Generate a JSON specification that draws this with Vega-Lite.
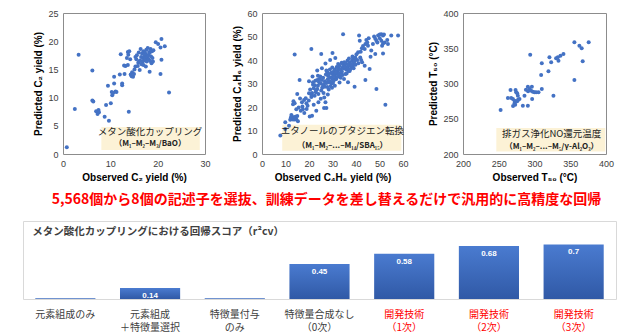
{
  "$schema": "https://vega.github.io/schema/vega-lite/v6.json",
  "padding": {"left": 22, "top": 8, "right": 0, "bottom": 0},
  "autosize": {"type": "pad"},
  "background": "white",
  "spacing": 9,
  "datasets": {
    "c2": [
      {"x":0.8,"y":1.2},{"x":2.5,"y":8.0},{"x":3.3,"y":17.6},{"x":6.2,"y":14.8},{"x":6.2,"y":9.5},{"x":6.4,"y":9.3},{"x":7.0,"y":7.6},{"x":7.3,"y":7.1},{"x":7.5,"y":7.8},{"x":7.6,"y":7.4},
      {"x":8.8,"y":6.6},{"x":9.1,"y":8.7},{"x":9.5,"y":12.1},{"x":9.7,"y":5.9},{"x":10.1,"y":9.0},{"x":10.3,"y":11.0},{"x":10.4,"y":10.4},{"x":10.6,"y":10.8},{"x":10.8,"y":12.5},{"x":10.8,"y":13.7},
      {"x":11.1,"y":11.1},{"x":11.3,"y":11.0},{"x":12.0,"y":14.1},{"x":12.2,"y":17.7},{"x":12.5,"y":12.5},{"x":12.5,"y":12.2},{"x":12.9,"y":15.7},{"x":13.0,"y":14.2},{"x":13.2,"y":15.6},{"x":13.5,"y":17.0},
      {"x":13.7,"y":18.1},{"x":13.8,"y":17.6},{"x":13.9,"y":7.5},{"x":13.7,"y":15.8},{"x":14.0,"y":18.2},{"x":14.3,"y":14.1},{"x":14.5,"y":13.8},{"x":14.6,"y":14.5},{"x":14.8,"y":13.7},{"x":15.0,"y":14.2},
      {"x":15.1,"y":15.0},{"x":15.3,"y":15.5},{"x":15.3,"y":17.2},{"x":15.6,"y":17.5},{"x":15.8,"y":15.6},{"x":15.9,"y":16.2},{"x":16.0,"y":18.0},{"x":16.1,"y":16.4},{"x":16.3,"y":16.6},{"x":16.4,"y":18.6},
      {"x":16.5,"y":17.2},{"x":16.7,"y":17.8},{"x":16.8,"y":16.3},{"x":16.9,"y":17.0},{"x":17.0,"y":18.2},{"x":17.1,"y":16.6},{"x":17.2,"y":17.4},{"x":17.3,"y":18.0},{"x":17.4,"y":16.9},{"x":17.5,"y":17.7},
      {"x":17.6,"y":18.5},{"x":17.7,"y":16.4},{"x":17.8,"y":17.2},{"x":17.9,"y":18.8},{"x":18.0,"y":17.5},{"x":18.1,"y":16.8},{"x":18.2,"y":18.1},{"x":18.3,"y":14.6},{"x":18.3,"y":17.9},{"x":18.4,"y":16.5},
      {"x":18.5,"y":18.6},{"x":18.6,"y":17.3},{"x":18.7,"y":16.1},{"x":18.8,"y":18.2},{"x":18.9,"y":17.0},{"x":19.0,"y":16.4},{"x":19.1,"y":18.4},{"x":17.0,"y":15.8},{"x":16.6,"y":15.9},{"x":15.5,"y":16.8},
      {"x":19.6,"y":19.8},{"x":20.1,"y":19.5},{"x":20.6,"y":18.9},{"x":20.8,"y":20.4},{"x":20.8,"y":16.7},{"x":20.6,"y":14.2},{"x":21.5,"y":19.1},{"x":22.4,"y":10.9},{"x":17.5,"y":15.5},{"x":16.2,"y":14.9},
      {"x":14.2,"y":16.8}
    ],
    "bd": [
      {"x":7.8,"y":7.9},{"x":9.9,"y":13.5},{"x":9.9,"y":10.6},{"x":11.5,"y":12.0},{"x":12.0,"y":14.6},{"x":12.3,"y":15.5},{"x":12.8,"y":16.0},{"x":13.2,"y":14.7},{"x":13.5,"y":15.3},{"x":13.9,"y":14.7},
      {"x":14.2,"y":15.9},{"x":14.6,"y":14.8},{"x":15.0,"y":16.2},{"x":15.3,"y":13.9},{"x":12.5,"y":16.6},{"x":13.2,"y":21.2},{"x":13.4,"y":22.4},{"x":13.9,"y":21.6},{"x":13.9,"y":42.3},{"x":15.0,"y":25.5},
      {"x":16.0,"y":31.5},{"x":15.6,"y":19.8},{"x":16.5,"y":18.4},{"x":17.2,"y":20.2},{"x":17.4,"y":19.0},{"x":17.9,"y":23.0},{"x":18.6,"y":23.7},{"x":18.9,"y":21.6},{"x":19.4,"y":20.5},{"x":19.9,"y":22.8},
      {"x":20.3,"y":16.0},{"x":21.0,"y":44.7},{"x":21.0,"y":24.3},{"x":21.3,"y":26.0},{"x":21.0,"y":25.2},{"x":21.7,"y":29.5},{"x":21.7,"y":30.5},{"x":21.3,"y":16.3},{"x":22.4,"y":24.8},{"x":22.9,"y":26.3},
      {"x":23.5,"y":27.7},{"x":22.7,"y":31.2},{"x":23.5,"y":31.5},{"x":23.8,"y":33.3},{"x":23.1,"y":18.4},{"x":24.3,"y":30.5},{"x":24.5,"y":31.9},{"x":25.2,"y":42.6},{"x":25.2,"y":27.0},{"x":25.6,"y":28.2},
      {"x":26.0,"y":29.0},{"x":26.4,"y":29.8},{"x":26.7,"y":28.6},{"x":26.4,"y":19.6},{"x":27.4,"y":19.6},{"x":27.0,"y":22.0},{"x":27.4,"y":35.5},{"x":27.8,"y":34.8},{"x":28.1,"y":33.3},{"x":28.8,"y":32.6},
      {"x":28.4,"y":30.5},{"x":28.4,"y":27.4},{"x":29.2,"y":28.8},{"x":29.5,"y":30.0},{"x":29.8,"y":28.2},{"x":30.2,"y":30.2},{"x":29.5,"y":32.6},{"x":30.2,"y":33.8},{"x":30.6,"y":35.2},{"x":30.9,"y":34.3},
      {"x":31.2,"y":31.9},{"x":31.2,"y":40.9},{"x":31.6,"y":31.9},{"x":32.0,"y":34.0},{"x":32.3,"y":35.5},{"x":32.6,"y":36.5},{"x":33.0,"y":37.6},{"x":33.3,"y":35.8},{"x":33.7,"y":34.5},{"x":33.0,"y":33.0},
      {"x":34.2,"y":36.7},{"x":34.5,"y":38.2},{"x":34.5,"y":51.0},{"x":34.9,"y":31.9},{"x":35.5,"y":34.0},{"x":35.9,"y":35.8},{"x":36.3,"y":36.5},{"x":36.6,"y":37.3},{"x":36.9,"y":35.3},{"x":37.3,"y":38.9},
      {"x":37.6,"y":37.6},{"x":38.0,"y":36.7},{"x":37.3,"y":35.3},{"x":38.3,"y":39.7},{"x":36.6,"y":30.5},{"x":38.7,"y":40.4},{"x":39.1,"y":39.0},{"x":39.4,"y":39.7},{"x":39.7,"y":41.1},{"x":38.7,"y":37.6},
      {"x":39.4,"y":28.6},{"x":40.9,"y":43.3},{"x":41.3,"y":50.4},{"x":41.6,"y":48.2},{"x":41.8,"y":41.1},{"x":42.2,"y":40.0},{"x":42.6,"y":39.0},{"x":43.0,"y":46.0},{"x":43.7,"y":44.7},{"x":44.0,"y":46.8},
      {"x":43.7,"y":37.6},{"x":44.0,"y":31.5},{"x":44.4,"y":48.5},{"x":44.8,"y":47.4},{"x":45.4,"y":49.3},{"x":45.1,"y":46.1},{"x":45.8,"y":36.2},{"x":46.2,"y":41.4},{"x":46.5,"y":44.0},{"x":47.2,"y":46.8},
      {"x":47.7,"y":50.0},{"x":48.2,"y":49.0},{"x":48.7,"y":48.2},{"x":48.2,"y":42.6},{"x":48.7,"y":27.7},{"x":49.4,"y":50.4},{"x":50.1,"y":50.8},{"x":50.8,"y":51.0},{"x":51.5,"y":50.4},{"x":51.9,"y":50.8},
      {"x":50.1,"y":49.3},{"x":50.8,"y":48.2},{"x":51.5,"y":47.0},{"x":52.2,"y":47.4},{"x":51.1,"y":46.1},{"x":49.1,"y":47.4},{"x":51.5,"y":42.8},{"x":52.5,"y":21.0},{"x":53.6,"y":46.8},{"x":53.3,"y":48.5},
      {"x":55.0,"y":50.4},{"x":57.9,"y":50.4},{"x":20.0,"y":25.8},{"x":20.5,"y":27.4},{"x":22.0,"y":28.0},{"x":22.5,"y":29.3},{"x":23.0,"y":27.1},{"x":23.8,"y":29.0},{"x":24.0,"y":25.5},{"x":24.8,"y":33.0},
      {"x":25.0,"y":30.0},{"x":25.5,"y":31.5},{"x":26.0,"y":32.4},{"x":26.2,"y":26.0},{"x":26.8,"y":31.0},{"x":27.2,"y":33.8},{"x":27.5,"y":30.2},{"x":27.8,"y":28.5},{"x":28.0,"y":31.8},{"x":28.5,"y":34.0},
      {"x":28.9,"y":36.0},{"x":29.0,"y":31.0},{"x":29.5,"y":34.6},{"x":29.9,"y":36.8},{"x":30.0,"y":32.0},{"x":30.5,"y":31.2},{"x":30.8,"y":33.2},{"x":31.0,"y":36.0},{"x":31.5,"y":34.8},{"x":31.8,"y":37.0},
      {"x":32.0,"y":32.8},{"x":32.4,"y":38.3},{"x":32.8,"y":34.2},{"x":33.2,"y":36.0},{"x":33.5,"y":32.5},{"x":33.9,"y":38.8},{"x":34.0,"y":35.0},{"x":34.3,"y":33.6},{"x":34.8,"y":36.4},{"x":35.0,"y":39.0},
      {"x":35.3,"y":37.2},{"x":35.7,"y":38.4},{"x":36.0,"y":34.3},{"x":36.4,"y":39.8},{"x":36.8,"y":38.2},{"x":37.0,"y":40.6},{"x":37.5,"y":36.0},{"x":38.0,"y":38.2},{"x":38.5,"y":41.5},{"x":39.0,"y":36.5},
      {"x":39.8,"y":38.0},{"x":40.2,"y":42.5},{"x":40.5,"y":40.0},{"x":41.0,"y":38.6},{"x":42.0,"y":43.5},{"x":42.5,"y":45.0},{"x":33.0,"y":30.4},{"x":31.0,"y":29.0},{"x":28.0,"y":25.3},{"x":26.5,"y":24.0},
      {"x":25.0,"y":23.5},{"x":24.0,"y":22.0},{"x":22.0,"y":21.0},{"x":19.0,"y":19.2},{"x":18.0,"y":17.5},{"x":17.0,"y":22.0},{"x":16.2,"y":23.6},{"x":14.6,"y":19.0},{"x":20.0,"y":31.0},{"x":21.5,"y":33.0},
      {"x":23.5,"y":35.5},{"x":25.5,"y":36.5},{"x":27.0,"y":38.5},{"x":29.0,"y":40.0},{"x":30.0,"y":43.0}
    ],
    "no": [
      {"x":252.6,"y":262.4},{"x":262.8,"y":279.4},{"x":266.5,"y":290.8},{"x":267.4,"y":279.4},{"x":269.8,"y":278.0},{"x":272.1,"y":275.6},{"x":272.1,"y":271.9},{"x":273.5,"y":290.8},{"x":274.4,"y":287.5},{"x":275.8,"y":286.0},
      {"x":276.7,"y":282.7},{"x":273.0,"y":270.0},{"x":275.8,"y":274.7},{"x":279.0,"y":278.0},{"x":270.0,"y":268.0},{"x":283.7,"y":268.6},{"x":290.7,"y":268.6},{"x":286.0,"y":282.7},{"x":290.7,"y":295.5},{"x":293.0,"y":292.2},
      {"x":295.3,"y":289.8},{"x":296.3,"y":295.5},{"x":297.7,"y":288.4},{"x":300.0,"y":287.5},{"x":296.7,"y":278.0},{"x":302.3,"y":287.5},{"x":305.6,"y":287.5},{"x":310.2,"y":292.2},{"x":326.5,"y":282.7},{"x":294.0,"y":340.9},
      {"x":310.2,"y":328.6},{"x":309.3,"y":312.0},{"x":319.5,"y":317.3},{"x":320.9,"y":337.1},{"x":323.3,"y":330.0},{"x":330.2,"y":335.7},{"x":333.5,"y":332.4},{"x":332.6,"y":337.1},{"x":336.3,"y":339.5},{"x":340.5,"y":341.8},
      {"x":355.8,"y":358.4},{"x":362.8,"y":353.7},{"x":366.0,"y":349.9},{"x":375.8,"y":358.4},{"x":367.4,"y":331.4},{"x":355.8,"y":305.0},{"x":277.0,"y":277.0},{"x":288.0,"y":291.0},{"x":291.0,"y":289.0}
    ],
    "bars": [
      {"cat":"元素組成のみ","value":0.01,"label":""},
      {"cat":"元素組成\n＋特徴量選択","value":0.14,"label":"0.14"},
      {"cat":"特徴量付与\nのみ","value":0.01,"label":""},
      {"cat":"特徴量合成なし\n（0次）","value":0.45,"label":"0.45"},
      {"cat":"開発技術\n（1次）","value":0.58,"label":"0.58"},
      {"cat":"開発技術\n（2次）","value":0.68,"label":"0.68"},
      {"cat":"開発技術\n（3次）","value":0.7,"label":"0.7"}
    ]
  },
  "vconcat": [
    {
      "bounds": "flush",
      "spacing": 0,
      "hconcat": [
        {"width": 40, "height": 141, "view": {"stroke": null}, "data": {"values": []}, "mark": "point", "encoding": {}},
        {
          "width": 142, "height": 141,
          "layer": [
            {"data": {"values": [{}]}, "mark": {"type": "rect", "fill": "#fcf1d2", "opacity": 0.9},
             "encoding": {"x": {"datum": 8.1, "type": "quantitative", "scale": {"domain": [0, 30], "nice": false}, "axis": {"values": [0, 10, 20, 30], "title": "Observed C₂ yield (%)"}}, "x2": {"datum": 28.9}, "y": {"datum": 0.7, "type": "quantitative", "scale": {"domain": [0, 25], "nice": false}, "axis": {"values": [0, 5, 10, 15, 20, 25], "title": "Predicted C₂ yield (%)"}}, "y2": {"datum": 4.8}}},
            {"data": {"name": "c2"}, "mark": {"type": "circle", "size": 16, "color": "#4472c4", "opacity": 1},
             "encoding": {
               "x": {"field": "x", "type": "quantitative", "scale": {"domain": [0, 30], "nice": false}, "axis": {"values": [0, 10, 20, 30], "title": "Observed C₂ yield (%)"}},
               "y": {"field": "y", "type": "quantitative", "scale": {"domain": [0, 25], "nice": false}, "axis": {"values": [0, 5, 10, 15, 20, 25], "title": "Predicted C₂ yield (%)"}}}},
            {"data": {"values": [{"t": "メタン酸化カップリング"}]}, "mark": {"type": "text", "font": "Noto Sans CJK JP", "fontSize": 9.5, "color": "#222222", "baseline": "middle"},
             "encoding": {"x": {"datum": 18.4, "type": "quantitative", "scale": {"domain": [0, 30], "nice": false}, "axis": {"values": [0, 10, 20, 30], "title": "Observed C₂ yield (%)"}}, "y": {"datum": 3.9, "type": "quantitative", "scale": {"domain": [0, 25], "nice": false}, "axis": {"values": [0, 5, 10, 15, 20, 25], "title": "Predicted C₂ yield (%)"}}, "text": {"field": "t"}}},
            {"data": {"values": [{"t": "（M₁–M₂–M₃/BaO）"}]}, "mark": {"type": "text", "font": "Noto Sans CJK JP", "fontSize": 8, "fontWeight": "bold", "color": "#222222", "baseline": "middle"},
             "encoding": {"x": {"datum": 18.4, "type": "quantitative", "scale": {"domain": [0, 30], "nice": false}, "axis": {"values": [0, 10, 20, 30], "title": "Observed C₂ yield (%)"}}, "y": {"datum": 1.7, "type": "quantitative", "scale": {"domain": [0, 25], "nice": false}, "axis": {"values": [0, 5, 10, 15, 20, 25], "title": "Predicted C₂ yield (%)"}}, "text": {"field": "t"}}}
          ]
        },
        {"width": 57, "height": 141, "view": {"stroke": null}, "data": {"values": []}, "mark": "point", "encoding": {}},
        {
          "width": 141, "height": 141,
          "layer": [
            {"data": {"values": [{}]}, "mark": {"type": "rect", "fill": "#fcf1d2", "opacity": 0.9},
             "encoding": {"x": {"datum": 8.6, "type": "quantitative", "scale": {"domain": [0, 60], "nice": false}, "axis": {"values": [0, 10, 20, 30, 40, 50, 60], "title": "Observed C₄H₆ yield (%)"}}, "x2": {"datum": 59.3}, "y": {"datum": 1.4, "type": "quantitative", "scale": {"domain": [0, 60], "nice": false}, "axis": {"values": [0, 10, 20, 30, 40, 50, 60], "title": "Predicted C₄H₆ yield (%)"}}, "y2": {"datum": 12.5}}},
            {"data": {"name": "bd"}, "mark": {"type": "circle", "size": 16, "color": "#4472c4", "opacity": 1},
             "encoding": {
               "x": {"field": "x", "type": "quantitative", "scale": {"domain": [0, 60], "nice": false}, "axis": {"values": [0, 10, 20, 30, 40, 50, 60], "title": "Observed C₄H₆ yield (%)"}},
               "y": {"field": "y", "type": "quantitative", "scale": {"domain": [0, 60], "nice": false}, "axis": {"values": [0, 10, 20, 30, 40, 50, 60], "title": "Predicted C₄H₆ yield (%)"}}}},
            {"data": {"values": [{"t": "エタノールのブタジエン転換"}]}, "mark": {"type": "text", "font": "Noto Sans CJK JP", "fontSize": 9.5, "color": "#222222", "baseline": "middle"},
             "encoding": {"x": {"datum": 34.2, "type": "quantitative", "scale": {"domain": [0, 60], "nice": false}, "axis": {"values": [0, 10, 20, 30, 40, 50, 60], "title": "Observed C₄H₆ yield (%)"}}, "y": {"datum": 9.6, "type": "quantitative", "scale": {"domain": [0, 60], "nice": false}, "axis": {"values": [0, 10, 20, 30, 40, 50, 60], "title": "Predicted C₄H₆ yield (%)"}}, "text": {"field": "t"}}},
            {"data": {"values": [{"t": "（M₁–M₂–...–M₁₄/SBA₁₅）"}]}, "mark": {"type": "text", "font": "Noto Sans CJK JP", "fontSize": 8, "fontWeight": "bold", "color": "#222222", "baseline": "middle"},
             "encoding": {"x": {"datum": 34.2, "type": "quantitative", "scale": {"domain": [0, 60], "nice": false}, "axis": {"values": [0, 10, 20, 30, 40, 50, 60], "title": "Observed C₄H₆ yield (%)"}}, "y": {"datum": 3.5, "type": "quantitative", "scale": {"domain": [0, 60], "nice": false}, "axis": {"values": [0, 10, 20, 30, 40, 50, 60], "title": "Predicted C₄H₆ yield (%)"}}, "text": {"field": "t"}}}
          ]
        },
        {"width": 60, "height": 141, "view": {"stroke": null}, "data": {"values": []}, "mark": "point", "encoding": {}},
        {
          "width": 143, "height": 141,
          "layer": [
            {"data": {"values": [{}]}, "mark": {"type": "rect", "fill": "#fcf1d2", "opacity": 0.9},
             "encoding": {"x": {"datum": 246.6, "type": "quantitative", "scale": {"domain": [200, 400], "nice": false, "zero": false}, "axis": {"values": [200, 250, 300, 350, 400], "title": "Observed T₅₀ (°C)"}}, "x2": {"datum": 399}, "y": {"datum": 203.5, "type": "quantitative", "scale": {"domain": [200, 400], "nice": false, "zero": false}, "axis": {"values": [200, 250, 300, 350, 400], "title": "Predicted T₅₀ (°C)"}}, "y2": {"datum": 237}}},
            {"data": {"name": "no"}, "mark": {"type": "circle", "size": 16, "color": "#4472c4", "opacity": 1},
             "encoding": {
               "x": {"field": "x", "type": "quantitative", "scale": {"domain": [200, 400], "nice": false, "zero": false}, "axis": {"values": [200, 250, 300, 350, 400], "title": "Observed T₅₀ (°C)"}},
               "y": {"field": "y", "type": "quantitative", "scale": {"domain": [200, 400], "nice": false, "zero": false}, "axis": {"values": [200, 250, 300, 350, 400], "title": "Predicted T₅₀ (°C)"}}}},
            {"data": {"values": [{"t": "排ガス浄化NO還元温度"}]}, "mark": {"type": "text", "font": "Noto Sans CJK JP", "fontSize": 9.5, "color": "#222222", "baseline": "middle"},
             "encoding": {"x": {"datum": 324, "type": "quantitative", "scale": {"domain": [200, 400], "nice": false, "zero": false}, "axis": {"values": [200, 250, 300, 350, 400], "title": "Observed T₅₀ (°C)"}}, "y": {"datum": 228, "type": "quantitative", "scale": {"domain": [200, 400], "nice": false, "zero": false}, "axis": {"values": [200, 250, 300, 350, 400], "title": "Predicted T₅₀ (°C)"}}, "text": {"field": "t"}}},
            {"data": {"values": [{"t": "（M₁–M₂–...–M₅/γ-Al₂O₃）"}]}, "mark": {"type": "text", "font": "Noto Sans CJK JP", "fontSize": 8, "fontWeight": "bold", "color": "#222222", "baseline": "middle"},
             "encoding": {"x": {"datum": 324, "type": "quantitative", "scale": {"domain": [200, 400], "nice": false, "zero": false}, "axis": {"values": [200, 250, 300, 350, 400], "title": "Observed T₅₀ (°C)"}}, "y": {"datum": 210.5, "type": "quantitative", "scale": {"domain": [200, 400], "nice": false, "zero": false}, "axis": {"values": [200, 250, 300, 350, 400], "title": "Predicted T₅₀ (°C)"}}, "text": {"field": "t"}}}
          ]
        }
      ]
    },
    {
      "width": 593,
      "height": 78,
      "view": {"stroke": "#d9d9d9"},
      "title": {"text": "5,568個から8個の記述子を選抜、訓練データを差し替えるだけで汎用的に高精度な回帰", "color": "#ff0000", "font": "Noto Sans CJK JP", "fontSize": 14, "fontWeight": "bold", "anchor": "middle", "offset": 14, "dx": 7},
      "data": {"name": "bars"},
      "layer": [
        {"mark": {"type": "bar", "color": {"x1": 0, "y1": 0, "x2": 0, "y2": 1, "gradient": "linear", "stops": [{"offset": 0, "color": "#4a7bd0"}, {"offset": 1, "color": "#3059a6"}]}},
         "encoding": {
           "x": {"field": "cat", "type": "nominal", "sort": null,
                 "scale": {"domain": ["元素組成のみ", "元素組成\n＋特徴量選択", "特徴量付与\nのみ", "特徴量合成なし\n（0次）", "開発技術\n（1次）", "開発技術\n（2次）", "開発技術\n（3次）"], "paddingInner": 0.29, "paddingOuter": 0.145},
                 "axis": {"title": null, "labelAngle": 0, "domain": false, "ticks": false, "grid": false, "labelFont": "Noto Sans CJK JP", "labelFontSize": 10,
                          "labelColor": {"condition": {"test": "indexof(datum.value, '開発') >= 0", "value": "#ff0000"}, "value": "#404040"},
                          "labelExpr": "split(datum.label, '\\n')", "labelBaseline": "middle", "labelPadding": 15, "labelLineHeight": 13}},
           "y": {"field": "value", "type": "quantitative", "scale": {"domain": [0, 1], "nice": false}, "axis": null}}},
        {"mark": {"type": "text", "dy": 8, "color": "#ffffff", "fontSize": 8, "fontWeight": "bold", "font": "Liberation Sans", "baseline": "middle"},
         "encoding": {"x": {"field": "cat", "type": "nominal", "sort": null}, "y": {"field": "value", "type": "quantitative"}, "text": {"field": "label"}}},
        {"data": {"values": [{"t": "メタン酸化カップリングにおける回帰スコア（r²cv）"}]},
         "mark": {"type": "text", "align": "left", "dx": -33, "baseline": "middle", "fontSize": 10.5, "fontWeight": "bold", "font": "Noto Sans CJK JP", "color": "#404040"},
         "encoding": {"x": {"datum": "元素組成のみ", "type": "nominal"}, "y": {"datum": 0.86, "type": "quantitative"}, "text": {"field": "t"}}}
      ]
    }
  ],
  "config": {
    "font": "Liberation Sans",
    "view": {"stroke": "#8c8c8c"},
    "axis": {"labelFont": "Liberation Sans", "labelFontSize": 9, "labelColor": "#404040", "titleFont": "Liberation Sans", "titleFontSize": 10, "titleFontWeight": "bold", "titleColor": "#000000", "ticks": false, "domain": false, "gridColor": "#e2e6ee", "labelPadding": 5, "titlePadding": 4, "labelFlush": false, "labelOverlap": false}
  }
}
